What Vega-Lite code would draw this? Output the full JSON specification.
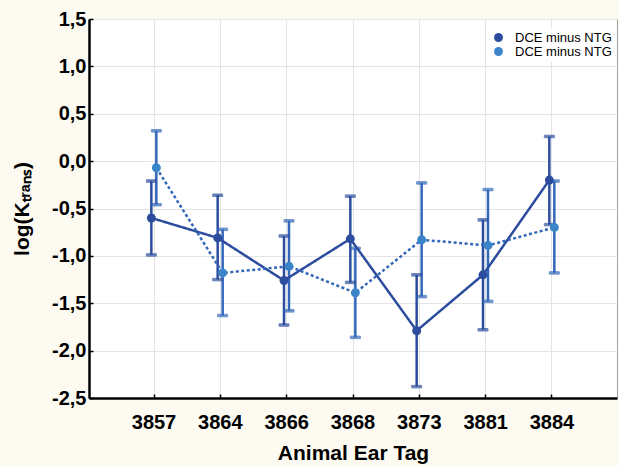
{
  "$schema": "https://vega.github.io/schema/vega-lite/v6.json",
  "autosize": {"type": "none"},
  "padding": {"left": 89, "top": 19, "right": 2, "bottom": 68},
  "width": 528,
  "height": 379,
  "background": "#fdfaf2",
  "config": {
    "view": {"fill": "white", "stroke": "#a0a0a0", "strokeWidth": 1},
    "font": "Liberation Sans"
  },
  "data": {
    "values": [
      {"tag": "3857", "series": "A", "mean": -0.60, "lo": -0.99, "hi": -0.21},
      {"tag": "3864", "series": "A", "mean": -0.81, "lo": -1.25, "hi": -0.36},
      {"tag": "3866", "series": "A", "mean": -1.26, "lo": -1.73, "hi": -0.79},
      {"tag": "3868", "series": "A", "mean": -0.82, "lo": -1.28, "hi": -0.37},
      {"tag": "3873", "series": "A", "mean": -1.79, "lo": -2.38, "hi": -1.20},
      {"tag": "3881", "series": "A", "mean": -1.20, "lo": -1.78, "hi": -0.62},
      {"tag": "3884", "series": "A", "mean": -0.20, "lo": -0.67, "hi": 0.26},
      {"tag": "3857", "series": "B", "mean": -0.07, "lo": -0.46, "hi": 0.32},
      {"tag": "3864", "series": "B", "mean": -1.18, "lo": -1.63, "hi": -0.72},
      {"tag": "3866", "series": "B", "mean": -1.11, "lo": -1.58, "hi": -0.63},
      {"tag": "3868", "series": "B", "mean": -1.39, "lo": -1.86, "hi": -0.92},
      {"tag": "3873", "series": "B", "mean": -0.83, "lo": -1.43, "hi": -0.23},
      {"tag": "3881", "series": "B", "mean": -0.89, "lo": -1.48, "hi": -0.30},
      {"tag": "3884", "series": "B", "mean": -0.70, "lo": -1.18, "hi": -0.21}
    ]
  },
  "encoding": {
    "x": {
      "field": "tag", "type": "ordinal",
      "scale": {"type": "band", "paddingInner": 0, "paddingOuter": 0.48},
      "axis": {
        "title": "Animal Ear Tag",
        "labelAngle": 0,
        "bandPosition": 0.5,
        "grid": true, "gridColor": "#e4e4e4", "gridWidth": 1,
        "domainColor": "black", "domainWidth": 2.5,
        "tickColor": "black", "tickSize": -4, "tickWidth": 1.5,
        "labelFont": "Liberation Sans", "labelFontWeight": "bold", "labelFontSize": 20, "labelColor": "black",
        "labelPadding": 18,
        "titleFont": "Liberation Sans", "titleFontWeight": "bold", "titleFontSize": 21, "titleColor": "black",
        "titlePadding": 10
      }
    },
    "xOffset": {
      "field": "series", "type": "nominal",
      "scale": {"domain": ["A", "B"], "range": [28, 38]}
    }
  },
  "resolve": {"legend": {"color": "independent", "stroke": "independent", "fill": "independent", "strokeDash": "independent"}},
  "layer": [
    {
      "mark": {"type": "rule", "strokeWidth": 2.5},
      "encoding": {
        "y": {
          "field": "lo", "type": "quantitative",
          "scale": {"domain": [-2.5, 1.5], "nice": false, "zero": false},
          "axis": {
            "title": "log(Kₜᵣₐₙₛ)",
            "values": [-2.5, -2, -1.5, -1, -0.5, 0, 0.5, 1, 1.5],
            "labelExpr": "(datum.value < 0 ? '-' : '') + replace(format(abs(datum.value), '.1f'), '.', ',')",
            "grid": true, "gridColor": "#e4e4e4", "gridWidth": 1,
            "domainColor": "black", "domainWidth": 2.5,
            "tickColor": "black", "tickSize": -4, "tickWidth": 1.5,
            "labelFont": "Liberation Sans", "labelFontWeight": "bold", "labelFontSize": 20, "labelColor": "black",
            "labelPadding": 7,
            "titleFont": "Liberation Sans", "titleFontWeight": "bold", "titleFontSize": 21, "titleColor": "black",
            "titleX": -67, "titleY": 189.5, "titleAngle": -90, "titleAlign": "center", "titleBaseline": "middle"
          }
        },
        "y2": {"field": "hi"},
        "stroke": {
          "field": "series", "type": "nominal",
          "scale": {"domain": ["A", "B"], "range": ["#2c4d9e", "#3367b9"]},
          "legend": null
        }
      }
    },
    {
      "mark": {"type": "tick", "orient": "horizontal", "size": 10, "thickness": 2.5},
      "encoding": {
        "y": {"field": "lo", "type": "quantitative"},
        "stroke": {"field": "series", "type": "nominal", "legend": null},
        "fill": {
          "field": "series", "type": "nominal",
          "scale": {"domain": ["A", "B"], "range": ["#2c4d9e", "#3367b9"]},
          "legend": null
        }
      }
    },
    {
      "mark": {"type": "tick", "orient": "horizontal", "size": 10, "thickness": 2.5},
      "encoding": {
        "y": {"field": "hi", "type": "quantitative"},
        "stroke": {"field": "series", "type": "nominal", "legend": null},
        "fill": {"field": "series", "type": "nominal", "legend": null}
      }
    },
    {
      "mark": {"type": "line", "strokeWidth": 2.5},
      "encoding": {
        "y": {"field": "mean", "type": "quantitative"},
        "detail": {"field": "series", "type": "nominal"},
        "stroke": {"field": "series", "type": "nominal", "legend": null},
        "strokeDash": {
          "field": "series", "type": "nominal",
          "scale": {"domain": ["A", "B"], "range": [[1, 0], [3, 2.5]]},
          "legend": null
        }
      }
    },
    {
      "mark": {"type": "point", "filled": true, "size": 80, "opacity": 1},
      "encoding": {
        "y": {"field": "mean", "type": "quantitative"},
        "color": {
          "field": "series", "type": "nominal",
          "scale": {"domain": ["A", "B"], "range": ["#2c4d9e", "#3a85ca"]},
          "legend": {
            "title": null,
            "orient": "none",
            "legendX": 400,
            "legendY": 9,
            "fillColor": "white",
            "padding": 3,
            "labelExpr": "'DCE minus NTG'",
            "labelFont": "Liberation Sans",
            "labelFontSize": 13,
            "labelColor": "black",
            "labelOffset": 10,
            "symbolType": "circle",
            "symbolSize": 80,
            "symbolOpacity": 1,
            "symbolStrokeWidth": 0,
            "rowPadding": 0
          }
        }
      }
    }
  ]
}
